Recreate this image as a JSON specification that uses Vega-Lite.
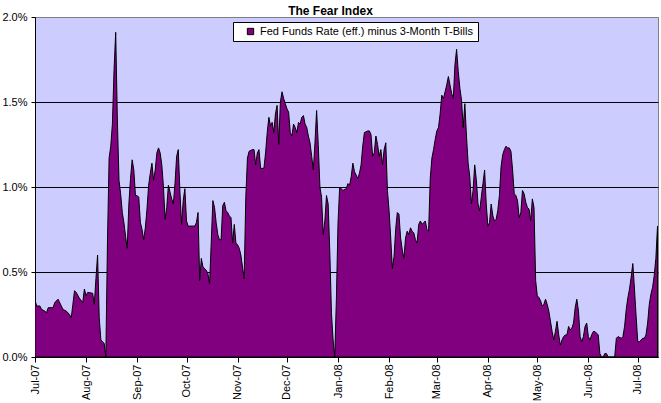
{
  "$schema": "https://vega.github.io/schema/vega-lite/v6.json",
  "autosize": {"type": "none"},
  "padding": {"left": 35, "top": 17, "right": 3, "bottom": 46},
  "width": 623,
  "height": 340,
  "background": "white",
  "title": {
    "text": "The Fear Index",
    "font": "Liberation Sans",
    "fontSize": 12,
    "fontWeight": "bold",
    "color": "black",
    "anchor": "middle",
    "frame": "group",
    "dx": -16,
    "offset": 5,
    "dy": 21,
    "baseline": "alphabetic"
  },
  "config": {
    "view": {"fill": "#CCCCFF", "stroke": "#808080", "strokeWidth": 1},
    "axis": {
      "labelFont": "Liberation Sans",
      "labelFontSize": 11,
      "labelColor": "black",
      "domainColor": "black",
      "tickColor": "black",
      "titleFont": "Liberation Sans"
    }
  },
  "data": {
    "values": [
      {"d": "2007-07-01", "v": 0.335}, {"d": "2007-07-02", "v": 0.30}, {"d": "2007-07-04", "v": 0.30}, {"d": "2007-07-05", "v": 0.28},
      {"d": "2007-07-07", "v": 0.27}, {"d": "2007-07-08", "v": 0.26}, {"d": "2007-07-09", "v": 0.29}, {"d": "2007-07-12", "v": 0.29},
      {"d": "2007-07-13", "v": 0.32}, {"d": "2007-07-15", "v": 0.34}, {"d": "2007-07-17", "v": 0.30}, {"d": "2007-07-18", "v": 0.28},
      {"d": "2007-07-20", "v": 0.27}, {"d": "2007-07-22", "v": 0.25}, {"d": "2007-07-23", "v": 0.23}, {"d": "2007-07-24", "v": 0.31},
      {"d": "2007-07-25", "v": 0.39}, {"d": "2007-07-26", "v": 0.38}, {"d": "2007-07-28", "v": 0.345}, {"d": "2007-07-30", "v": 0.32},
      {"d": "2007-07-31", "v": 0.40}, {"d": "2007-08-01", "v": 0.36}, {"d": "2007-08-02", "v": 0.38}, {"d": "2007-08-05", "v": 0.375},
      {"d": "2007-08-06", "v": 0.31}, {"d": "2007-08-07", "v": 0.46}, {"d": "2007-08-08", "v": 0.60}, {"d": "2007-08-09", "v": 0.23},
      {"d": "2007-08-10", "v": 0.10}, {"d": "2007-08-11", "v": 0.09}, {"d": "2007-08-12", "v": 0.08}, {"d": "2007-08-13", "v": 0.0},
      {"d": "2007-08-14", "v": 0.67}, {"d": "2007-08-15", "v": 1.17}, {"d": "2007-08-16", "v": 1.24}, {"d": "2007-08-17", "v": 1.37},
      {"d": "2007-08-18", "v": 1.69}, {"d": "2007-08-19", "v": 1.91}, {"d": "2007-08-20", "v": 1.40}, {"d": "2007-08-21", "v": 1.04},
      {"d": "2007-08-22", "v": 0.96}, {"d": "2007-08-23", "v": 0.85}, {"d": "2007-08-24", "v": 0.79}, {"d": "2007-08-25", "v": 0.71},
      {"d": "2007-08-26", "v": 0.64}, {"d": "2007-08-27", "v": 0.90}, {"d": "2007-08-28", "v": 1.05}, {"d": "2007-08-29", "v": 1.16},
      {"d": "2007-08-30", "v": 1.10}, {"d": "2007-08-31", "v": 0.95}, {"d": "2007-09-01", "v": 0.95}, {"d": "2007-09-02", "v": 0.94},
      {"d": "2007-09-03", "v": 0.79}, {"d": "2007-09-04", "v": 0.75}, {"d": "2007-09-05", "v": 0.69}, {"d": "2007-09-06", "v": 0.76},
      {"d": "2007-09-07", "v": 0.87}, {"d": "2007-09-08", "v": 1.01}, {"d": "2007-09-09", "v": 1.08}, {"d": "2007-09-10", "v": 1.14},
      {"d": "2007-09-11", "v": 1.04}, {"d": "2007-09-12", "v": 1.10}, {"d": "2007-09-13", "v": 1.20}, {"d": "2007-09-14", "v": 1.23},
      {"d": "2007-09-15", "v": 1.20}, {"d": "2007-09-16", "v": 1.13}, {"d": "2007-09-17", "v": 1.00}, {"d": "2007-09-18", "v": 0.81},
      {"d": "2007-09-19", "v": 0.88}, {"d": "2007-09-20", "v": 1.01}, {"d": "2007-09-21", "v": 0.97}, {"d": "2007-09-22", "v": 0.93},
      {"d": "2007-09-23", "v": 0.90}, {"d": "2007-09-24", "v": 1.02}, {"d": "2007-09-25", "v": 1.18}, {"d": "2007-09-26", "v": 1.22},
      {"d": "2007-09-27", "v": 0.97}, {"d": "2007-09-28", "v": 0.78}, {"d": "2007-09-29", "v": 0.92}, {"d": "2007-09-30", "v": 0.99},
      {"d": "2007-10-01", "v": 0.80}, {"d": "2007-10-02", "v": 0.77}, {"d": "2007-10-03", "v": 0.77}, {"d": "2007-10-06", "v": 0.77},
      {"d": "2007-10-07", "v": 0.79}, {"d": "2007-10-08", "v": 0.85}, {"d": "2007-10-09", "v": 0.45}, {"d": "2007-10-10", "v": 0.58},
      {"d": "2007-10-11", "v": 0.53}, {"d": "2007-10-13", "v": 0.51}, {"d": "2007-10-14", "v": 0.49}, {"d": "2007-10-15", "v": 0.43},
      {"d": "2007-10-16", "v": 0.67}, {"d": "2007-10-17", "v": 0.92}, {"d": "2007-10-18", "v": 0.88}, {"d": "2007-10-19", "v": 0.79},
      {"d": "2007-10-20", "v": 0.72}, {"d": "2007-10-21", "v": 0.69}, {"d": "2007-10-22", "v": 0.69}, {"d": "2007-10-23", "v": 0.89},
      {"d": "2007-10-24", "v": 0.91}, {"d": "2007-10-25", "v": 0.86}, {"d": "2007-10-26", "v": 0.85}, {"d": "2007-10-27", "v": 0.83},
      {"d": "2007-10-28", "v": 0.82}, {"d": "2007-10-29", "v": 0.67}, {"d": "2007-10-30", "v": 0.78}, {"d": "2007-10-31", "v": 0.67},
      {"d": "2007-11-01", "v": 0.66}, {"d": "2007-11-02", "v": 0.64}, {"d": "2007-11-03", "v": 0.60}, {"d": "2007-11-04", "v": 0.53},
      {"d": "2007-11-05", "v": 0.46}, {"d": "2007-11-06", "v": 0.94}, {"d": "2007-11-07", "v": 1.17}, {"d": "2007-11-08", "v": 1.21},
      {"d": "2007-11-10", "v": 1.22}, {"d": "2007-11-11", "v": 1.22}, {"d": "2007-11-12", "v": 1.13}, {"d": "2007-11-13", "v": 1.20},
      {"d": "2007-11-14", "v": 1.22}, {"d": "2007-11-15", "v": 1.11}, {"d": "2007-11-17", "v": 1.11}, {"d": "2007-11-18", "v": 1.20},
      {"d": "2007-11-19", "v": 1.32}, {"d": "2007-11-20", "v": 1.41}, {"d": "2007-11-21", "v": 1.36}, {"d": "2007-11-22", "v": 1.38},
      {"d": "2007-11-23", "v": 1.32}, {"d": "2007-11-24", "v": 1.43}, {"d": "2007-11-25", "v": 1.48}, {"d": "2007-11-26", "v": 1.25},
      {"d": "2007-11-27", "v": 1.50}, {"d": "2007-11-28", "v": 1.56}, {"d": "2007-11-29", "v": 1.52}, {"d": "2007-11-30", "v": 1.49},
      {"d": "2007-12-01", "v": 1.46}, {"d": "2007-12-02", "v": 1.44}, {"d": "2007-12-03", "v": 1.32}, {"d": "2007-12-04", "v": 1.30},
      {"d": "2007-12-05", "v": 1.37}, {"d": "2007-12-06", "v": 1.35}, {"d": "2007-12-07", "v": 1.32}, {"d": "2007-12-08", "v": 1.38},
      {"d": "2007-12-09", "v": 1.37}, {"d": "2007-12-10", "v": 1.41}, {"d": "2007-12-11", "v": 1.42}, {"d": "2007-12-12", "v": 1.37},
      {"d": "2007-12-13", "v": 1.35}, {"d": "2007-12-14", "v": 1.30}, {"d": "2007-12-15", "v": 1.26}, {"d": "2007-12-16", "v": 1.18},
      {"d": "2007-12-17", "v": 1.10}, {"d": "2007-12-18", "v": 1.26}, {"d": "2007-12-19", "v": 1.45}, {"d": "2007-12-20", "v": 1.25},
      {"d": "2007-12-21", "v": 1.00}, {"d": "2007-12-22", "v": 0.94}, {"d": "2007-12-23", "v": 0.72}, {"d": "2007-12-24", "v": 0.80},
      {"d": "2007-12-25", "v": 0.95}, {"d": "2007-12-26", "v": 0.90}, {"d": "2007-12-27", "v": 0.62}, {"d": "2007-12-28", "v": 0.26},
      {"d": "2007-12-29", "v": 0.10}, {"d": "2007-12-30", "v": 0.0}, {"d": "2007-12-31", "v": 0.34}, {"d": "2008-01-01", "v": 0.79},
      {"d": "2008-01-02", "v": 1.00}, {"d": "2008-01-04", "v": 0.98}, {"d": "2008-01-06", "v": 0.99}, {"d": "2008-01-07", "v": 1.02},
      {"d": "2008-01-08", "v": 1.01}, {"d": "2008-01-09", "v": 1.06}, {"d": "2008-01-10", "v": 1.14}, {"d": "2008-01-11", "v": 1.09},
      {"d": "2008-01-13", "v": 1.05}, {"d": "2008-01-14", "v": 1.08}, {"d": "2008-01-15", "v": 1.13}, {"d": "2008-01-16", "v": 1.24},
      {"d": "2008-01-17", "v": 1.32}, {"d": "2008-01-19", "v": 1.33}, {"d": "2008-01-20", "v": 1.33}, {"d": "2008-01-21", "v": 1.31},
      {"d": "2008-01-22", "v": 1.18}, {"d": "2008-01-23", "v": 1.20}, {"d": "2008-01-24", "v": 1.30}, {"d": "2008-01-25", "v": 1.25},
      {"d": "2008-01-26", "v": 1.18}, {"d": "2008-01-27", "v": 1.22}, {"d": "2008-01-28", "v": 1.13}, {"d": "2008-01-29", "v": 1.22},
      {"d": "2008-01-30", "v": 1.26}, {"d": "2008-01-31", "v": 0.98}, {"d": "2008-02-01", "v": 0.86}, {"d": "2008-02-02", "v": 0.70},
      {"d": "2008-02-03", "v": 0.52}, {"d": "2008-02-04", "v": 0.59}, {"d": "2008-02-05", "v": 0.75}, {"d": "2008-02-06", "v": 0.85},
      {"d": "2008-02-07", "v": 0.84}, {"d": "2008-02-08", "v": 0.70}, {"d": "2008-02-09", "v": 0.63}, {"d": "2008-02-10", "v": 0.58},
      {"d": "2008-02-11", "v": 0.70}, {"d": "2008-02-12", "v": 0.74}, {"d": "2008-02-13", "v": 0.72}, {"d": "2008-02-14", "v": 0.76},
      {"d": "2008-02-15", "v": 0.74}, {"d": "2008-02-16", "v": 0.73}, {"d": "2008-02-17", "v": 0.69}, {"d": "2008-02-18", "v": 0.67},
      {"d": "2008-02-19", "v": 0.78}, {"d": "2008-02-20", "v": 0.80}, {"d": "2008-02-21", "v": 0.78}, {"d": "2008-02-22", "v": 0.79},
      {"d": "2008-02-23", "v": 0.80}, {"d": "2008-02-24", "v": 0.75}, {"d": "2008-02-25", "v": 0.74}, {"d": "2008-02-26", "v": 1.05},
      {"d": "2008-02-27", "v": 1.17}, {"d": "2008-02-28", "v": 1.22}, {"d": "2008-02-29", "v": 1.28}, {"d": "2008-03-01", "v": 1.33},
      {"d": "2008-03-02", "v": 1.35}, {"d": "2008-03-03", "v": 1.43}, {"d": "2008-03-04", "v": 1.54}, {"d": "2008-03-05", "v": 1.52},
      {"d": "2008-03-06", "v": 1.56}, {"d": "2008-03-07", "v": 1.60}, {"d": "2008-03-08", "v": 1.65}, {"d": "2008-03-09", "v": 1.60},
      {"d": "2008-03-10", "v": 1.55}, {"d": "2008-03-11", "v": 1.52}, {"d": "2008-03-12", "v": 1.72}, {"d": "2008-03-13", "v": 1.81},
      {"d": "2008-03-14", "v": 1.68}, {"d": "2008-03-15", "v": 1.58}, {"d": "2008-03-16", "v": 1.51}, {"d": "2008-03-17", "v": 1.35},
      {"d": "2008-03-18", "v": 1.49}, {"d": "2008-03-19", "v": 1.30}, {"d": "2008-03-20", "v": 1.14}, {"d": "2008-03-21", "v": 1.06},
      {"d": "2008-03-22", "v": 0.90}, {"d": "2008-03-23", "v": 0.98}, {"d": "2008-03-24", "v": 1.13}, {"d": "2008-03-25", "v": 1.04},
      {"d": "2008-03-26", "v": 0.90}, {"d": "2008-03-27", "v": 0.86}, {"d": "2008-03-28", "v": 0.94}, {"d": "2008-03-29", "v": 1.02},
      {"d": "2008-03-30", "v": 1.10}, {"d": "2008-03-31", "v": 0.90}, {"d": "2008-04-01", "v": 0.77}, {"d": "2008-04-02", "v": 0.79},
      {"d": "2008-04-03", "v": 0.90}, {"d": "2008-04-04", "v": 0.83}, {"d": "2008-04-05", "v": 0.80}, {"d": "2008-04-06", "v": 0.81},
      {"d": "2008-04-07", "v": 0.86}, {"d": "2008-04-08", "v": 0.95}, {"d": "2008-04-09", "v": 1.12}, {"d": "2008-04-10", "v": 1.19},
      {"d": "2008-04-11", "v": 1.22}, {"d": "2008-04-12", "v": 1.24}, {"d": "2008-04-13", "v": 1.23}, {"d": "2008-04-14", "v": 1.23},
      {"d": "2008-04-15", "v": 1.21}, {"d": "2008-04-16", "v": 1.10}, {"d": "2008-04-17", "v": 0.96}, {"d": "2008-04-18", "v": 0.95},
      {"d": "2008-04-19", "v": 0.92}, {"d": "2008-04-20", "v": 0.82}, {"d": "2008-04-21", "v": 0.85}, {"d": "2008-04-22", "v": 0.98},
      {"d": "2008-04-23", "v": 0.96}, {"d": "2008-04-24", "v": 0.91}, {"d": "2008-04-25", "v": 0.88}, {"d": "2008-04-26", "v": 0.87},
      {"d": "2008-04-27", "v": 0.80}, {"d": "2008-04-28", "v": 0.93}, {"d": "2008-04-29", "v": 0.88}, {"d": "2008-04-30", "v": 0.45},
      {"d": "2008-05-01", "v": 0.36}, {"d": "2008-05-02", "v": 0.35}, {"d": "2008-05-03", "v": 0.33}, {"d": "2008-05-04", "v": 0.30},
      {"d": "2008-05-05", "v": 0.31}, {"d": "2008-05-06", "v": 0.34}, {"d": "2008-05-07", "v": 0.31}, {"d": "2008-05-08", "v": 0.27},
      {"d": "2008-05-09", "v": 0.21}, {"d": "2008-05-10", "v": 0.15}, {"d": "2008-05-11", "v": 0.10}, {"d": "2008-05-12", "v": 0.15},
      {"d": "2008-05-13", "v": 0.21}, {"d": "2008-05-14", "v": 0.13}, {"d": "2008-05-15", "v": 0.07}, {"d": "2008-05-16", "v": 0.10},
      {"d": "2008-05-17", "v": 0.12}, {"d": "2008-05-18", "v": 0.13}, {"d": "2008-05-19", "v": 0.13}, {"d": "2008-05-20", "v": 0.18},
      {"d": "2008-05-21", "v": 0.16}, {"d": "2008-05-22", "v": 0.17}, {"d": "2008-05-23", "v": 0.20}, {"d": "2008-05-24", "v": 0.29},
      {"d": "2008-05-25", "v": 0.34}, {"d": "2008-05-26", "v": 0.27}, {"d": "2008-05-27", "v": 0.12}, {"d": "2008-05-28", "v": 0.09},
      {"d": "2008-05-29", "v": 0.12}, {"d": "2008-05-30", "v": 0.18}, {"d": "2008-05-31", "v": 0.20}, {"d": "2008-06-01", "v": 0.12},
      {"d": "2008-06-02", "v": 0.10}, {"d": "2008-06-03", "v": 0.13}, {"d": "2008-06-04", "v": 0.15}, {"d": "2008-06-05", "v": 0.15},
      {"d": "2008-06-06", "v": 0.14}, {"d": "2008-06-07", "v": 0.13}, {"d": "2008-06-08", "v": 0.02}, {"d": "2008-06-09", "v": 0.0},
      {"d": "2008-06-10", "v": 0.0}, {"d": "2008-06-11", "v": 0.02}, {"d": "2008-06-12", "v": 0.02}, {"d": "2008-06-13", "v": 0.0},
      {"d": "2008-06-14", "v": 0.0}, {"d": "2008-06-17", "v": 0.0}, {"d": "2008-06-18", "v": 0.11}, {"d": "2008-06-19", "v": 0.12},
      {"d": "2008-06-21", "v": 0.11}, {"d": "2008-06-22", "v": 0.12}, {"d": "2008-06-23", "v": 0.18}, {"d": "2008-06-24", "v": 0.28},
      {"d": "2008-06-25", "v": 0.35}, {"d": "2008-06-26", "v": 0.40}, {"d": "2008-06-27", "v": 0.47}, {"d": "2008-06-28", "v": 0.55},
      {"d": "2008-06-29", "v": 0.40}, {"d": "2008-06-30", "v": 0.24}, {"d": "2008-07-01", "v": 0.09}, {"d": "2008-07-02", "v": 0.09},
      {"d": "2008-07-03", "v": 0.10}, {"d": "2008-07-04", "v": 0.11}, {"d": "2008-07-05", "v": 0.11}, {"d": "2008-07-06", "v": 0.13},
      {"d": "2008-07-07", "v": 0.20}, {"d": "2008-07-08", "v": 0.31}, {"d": "2008-07-09", "v": 0.37}, {"d": "2008-07-10", "v": 0.41},
      {"d": "2008-07-11", "v": 0.48}, {"d": "2008-07-12", "v": 0.58}, {"d": "2008-07-13", "v": 0.77}
    ]
  },
  "mark": {"type": "area", "interpolate": "linear", "stroke": "black", "strokeWidth": 1, "strokeJoin": "miter", "clip": true},
  "encoding": {
    "x": {
      "field": "d",
      "type": "temporal",
      "scale": {
        "type": "utc",
        "domain": [
          {"year": 2007, "month": 7, "date": 1, "utc": true},
          {"year": 2008, "month": 7, "date": 13, "hours": 7, "utc": true}
        ],
        "nice": false
      },
      "axis": {
        "title": null,
        "format": "%b-%y",
        "tickCount": {"interval": "month", "step": 1},
        "labelAngle": 270,
        "labelAlign": "right",
        "labelBaseline": "middle",
        "tickSize": 5,
        "labelPadding": 2,
        "grid": false,
        "labelOverlap": false,
        "labelFlush": false
      }
    },
    "y": {
      "field": "v",
      "type": "quantitative",
      "scale": {"domain": [0, 2], "nice": false, "zero": true},
      "axis": {
        "title": null,
        "values": [0, 0.5, 1, 1.5, 2],
        "labelExpr": "format(datum.value, '.1f') + '%'",
        "tickSize": 4,
        "labelPadding": 4,
        "grid": true,
        "gridColor": {"condition": {"test": "datum.value >= 2", "value": "#808080"}, "value": "black"},
        "gridOpacity": 1,
        "gridWidth": 1
      }
    },
    "fill": {
      "datum": "Fed Funds Rate (eff.) minus 3-Month T-Bills",
      "type": "nominal",
      "scale": {"range": ["#800080"]},
      "legend": {
        "title": null,
        "orient": "none",
        "legendX": 198,
        "legendY": 5,
        "direction": "horizontal",
        "fillColor": "white",
        "strokeColor": "black",
        "padding": 4,
        "symbolType": "square",
        "symbolSize": 40,
        "symbolOffset": 8,
        "symbolStrokeColor": "black",
        "symbolStrokeWidth": 1,
        "symbolFillColor": "#800080",
        "labelFont": "Liberation Sans",
        "labelFontSize": 11,
        "labelColor": "black",
        "labelOffset": 4,
        "labelLimit": 400
      }
    }
  }
}
